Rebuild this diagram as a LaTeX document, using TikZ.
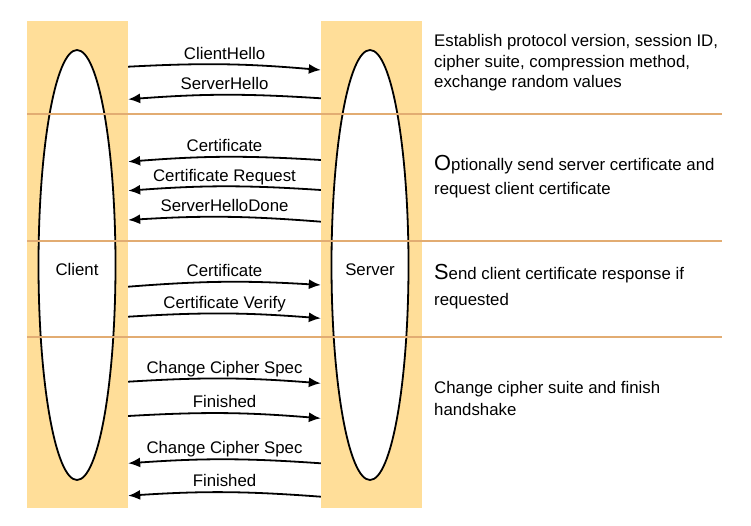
\documentclass[tikz,border=0pt]{standalone}
\usepackage{fontspec}
\setmainfont{Liberation Sans}
\usetikzlibrary{shapes.geometric,arrows.meta,positioning,calc}
\definecolor{laneorange}{RGB}{255,222,153}
\definecolor{phaseline}{RGB}{226,172,114}

\begin{document}
\begin{tikzpicture}[x=1pt, y=-1pt,
        lane/.style={fill=laneorange, minimum width=101pt, minimum height=487pt, inner sep=0pt},
        party/.style={draw, ellipse, line width=1.8pt, fill=white, minimum width=77pt, minimum height=430pt, inner sep=0pt, text height=22pt, text depth=0pt, font=\fontsize{16.8}{20}\selectfont},
        msg/.style={line width=1.8pt, -{Latex[length=12pt, width=10pt]}},
        msglabel/.style={font=\fontsize{16.8}{20}\selectfont, text height=12pt, text depth=3.5pt, inner sep=1pt},
        phase/.style={draw=phaseline, line width=2pt},
        note/.style={anchor=base west, align=left, inner sep=0pt}]
        \useasboundingbox (0,0) rectangle (751,526);

        \node[lane] (clientlane) at (77.5,264.5) {};
        \node[lane] (serverlane) at (371.5,264.5) {};
        \node[party] (client) at (77,265) {Client};
        \node[party] (server) at (370,265) {Server};

        \draw[phase] (27,114) -- (722,114);
        \draw[phase] (27,241) -- (722,241);
        \draw[phase] (27,337) -- (722,337);

        \draw[msg] (clientlane.east |- 0,66.7) to[bend left=4] node[msglabel, midway, above] {ClientHello} (serverlane.west |- 0,70);
        \draw[msg] (serverlane.west |- 0,98.3) to[bend right=4] node[msglabel, midway, above] {ServerHello} (clientlane.east |- 0,99.3);

        \draw[msg] (serverlane.west |- 0,160) to[bend right=4] node[msglabel, midway, above] {Certificate} (clientlane.east |- 0,161.7);
        \draw[msg] (serverlane.west |- 0,190) to[bend right=4] node[msglabel, midway, above] {Certificate Request} (clientlane.east |- 0,190.7);
        \draw[msg] (serverlane.west |- 0,221.7) to[bend right=4] node[msglabel, midway, above] {ServerHelloDone} (clientlane.east |- 0,220);

        \draw[msg] (clientlane.east |- 0,286.7) to[bend left=4] node[msglabel, midway, above] {Certificate} (serverlane.west |- 0,285);
        \draw[msg] (clientlane.east |- 0,316.7) to[bend left=4] node[msglabel, midway, above] {Certificate Verify} (serverlane.west |- 0,318.3);

        \draw[msg] (clientlane.east |- 0,381.7) to[bend left=4] node[msglabel, midway, above] {Change Cipher Spec} (serverlane.west |- 0,383.3);
        \draw[msg] (clientlane.east |- 0,416) to[bend left=4] node[msglabel, midway, above] {Finished} (serverlane.west |- 0,418.3);
        \draw[msg] (serverlane.west |- 0,463.3) to[bend right=4] node[msglabel, midway, above] {Change Cipher Spec} (clientlane.east |- 0,463.3);
        \draw[msg] (serverlane.west |- 0,496.7) to[bend right=4] node[msglabel, midway, above] {Finished} (clientlane.east |- 0,495.7);

        \node[note, font=\fontsize{16.8}{20.7}\selectfont] (hellonote) at (434,88) {Establish protocol version, session ID,\\cipher suite, compression method,\\exchange random values};
        \node[note, font=\fontsize{16.8}{24.3}\selectfont] (servercertnote) at (434,195) {{\fontsize{21.8}{24}\selectfont O}ptionally send server certificate and\\request client certificate};
        \node[note, font=\fontsize{16.8}{25.7}\selectfont] (clientcertnote) at (434,305) {{\fontsize{21.8}{24}\selectfont S}end client certificate response if\\requested};
        \node[note, font=\fontsize{16.8}{21.7}\selectfont] (finishnote) at (434,415) {Change cipher suite and finish\\handshake};
\end{tikzpicture}
\end{document}
